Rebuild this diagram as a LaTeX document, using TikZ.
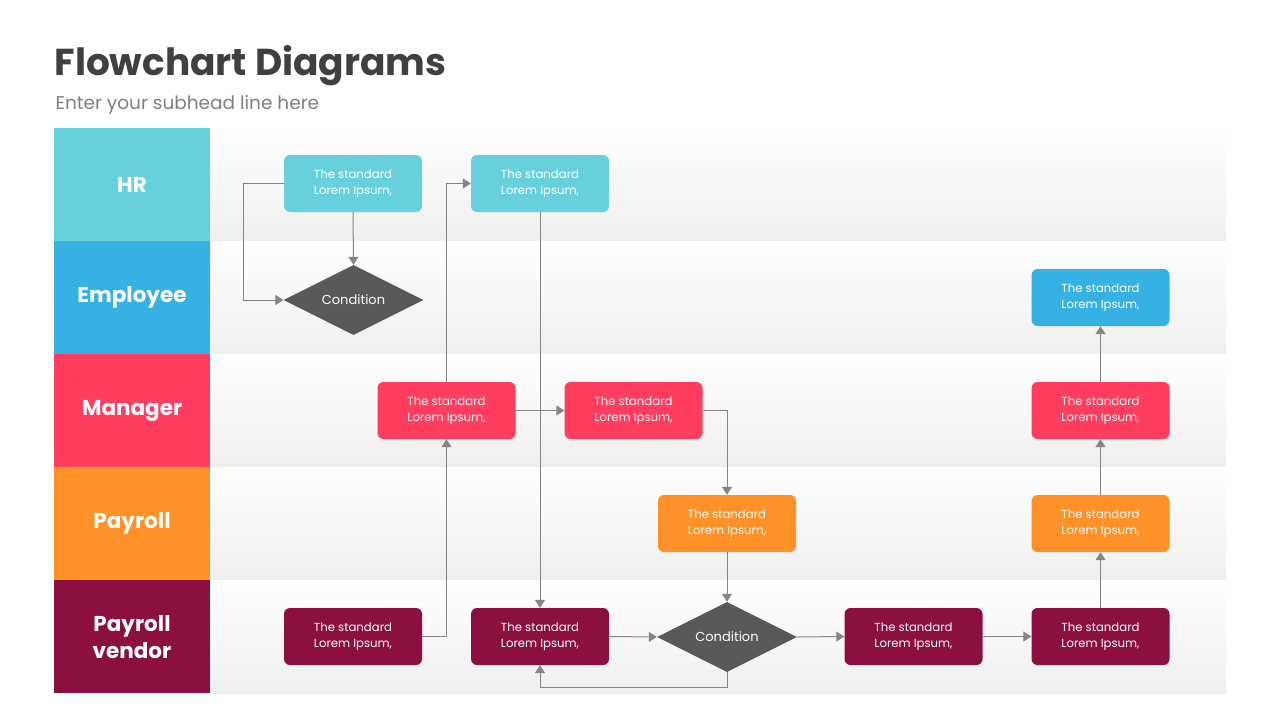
\documentclass[tikz,border=0pt]{standalone}
\usepackage{fontspec}
\setmainfont{Poppins}
\usetikzlibrary{shapes.geometric,arrows.meta}
\definecolor{hrc}{HTML}{66D0DC}
\definecolor{empc}{HTML}{36B1E3}
\definecolor{mgrc}{HTML}{FF3E5F}
\definecolor{payc}{HTML}{FF9129}
\definecolor{vendc}{HTML}{8B0F3F}
\definecolor{condc}{HTML}{595959}
\definecolor{linec}{HTML}{858585}
\definecolor{titlec}{HTML}{404040}
\definecolor{subc}{HTML}{808080}
\definecolor{laneb}{HTML}{EFEFEF}
\tikzset{
  box/.style={rounded corners=6pt, minimum width=138pt, minimum height=57pt, text=white, align=center, inner sep=0pt, font=\fontsize{11.7}{15.5}\selectfont},
  cond/.style={diamond, fill=condc, minimum width=140pt, minimum height=70pt, inner sep=0pt, aspect=2, text=white, font=\fontsize{13}{15}\selectfont},
  lanelab/.style={text=white, align=center, font=\fontsize{21.5}{27}\selectfont\bfseries},
  arr/.style={draw=linec, line width=1pt, -{Triangle[width=10pt,length=8pt]}},
}
\begin{document}
\begin{tikzpicture}[x=1pt,y=-1pt]
\useasboundingbox (0,0) rectangle (1280,720);
\fill[white] (0,0) rectangle (1280,720);
% title
\node[anchor=west, text=titlec, font=\fontsize{37.5}{42}\selectfont\bfseries] (title) at (51,66) {Flowchart Diagrams};
\node[anchor=west, text=subc, font=\fontsize{18.5}{22}\selectfont] (sub) at (52,105) {Enter your subhead line here};
% lanes
\foreach \t in {128,241,354,467,580}{
  \shade[top color=white, bottom color=laneb] (210,\t) rectangle (1226,\t+113);
}
\fill[hrc] (54,128) rectangle (210,241);
\fill[empc] (54,241) rectangle (210,354);
\fill[mgrc] (54,354) rectangle (210,467);
\fill[payc] (54,467) rectangle (210,580);
\fill[vendc] (54,580) rectangle (210,693);
\node[lanelab] (lhr) at (132,184.5) {HR};
\node[lanelab] (lemp) at (132,297.5) {Employee};
\node[lanelab] (lmgr) at (132,410.5) {Manager};
\node[lanelab] (lpay) at (132,523.5) {Payroll};
\node[lanelab] (lven) at (132,637) {Payroll\\vendor};
% nodes
\node[box, fill=hrc] (h1) at (353,183.5) {The standard\\Lorem Ipsum,};
\node[box, fill=hrc] (h2) at (540,183.5) {The standard\\Lorem Ipsum,};
\node[cond] (c1) at (353.5,300) {Condition};
\node[box, fill=empc] (e1) at (1100.5,297.5) {The standard\\Lorem Ipsum,};
\node[box, fill=mgrc] (m1) at (446.5,410.5) {The standard\\Lorem Ipsum,};
\node[box, fill=mgrc] (m2) at (633.5,410.5) {The standard\\Lorem Ipsum,};
\node[box, fill=mgrc] (m3) at (1100.5,410.5) {The standard\\Lorem Ipsum,};
\node[box, fill=payc] (p1) at (727,523.5) {The standard\\Lorem Ipsum,};
\node[box, fill=payc] (p2) at (1100.5,523.5) {The standard\\Lorem Ipsum,};
\node[box, fill=vendc] (v1) at (353,636.5) {The standard\\Lorem Ipsum,};
\node[box, fill=vendc] (v2) at (540,636.5) {The standard\\Lorem Ipsum,};
\node[cond] (c2) at (727,637) {Condition};
\node[box, fill=vendc] (v4) at (913.5,636.5) {The standard\\Lorem Ipsum,};
\node[box, fill=vendc] (v5) at (1100.5,636.5) {The standard\\Lorem Ipsum,};
% connectors
\draw[arr] (h1.south) -- (c1.north);
\draw[arr] (h1.west) -- ++(-40,0) |- (c1.west);
\draw[arr] (m1.north) |- (h2.west);
\draw[arr] (h2.south) -- (v2.north);
\draw[arr] (v1.east) -| (m1.south);
\draw[arr] (m1.east) -- (m2.west);
\draw[arr] (m2.east) -| (p1.north);
\draw[arr] (p1.south) -- (c2.north);
\draw[arr] (v2.east) -- (c2.west);
\draw[arr] (c2.south) -- ++(0,15) -| (v2.south);
\draw[arr] (c2.east) -- (v4.west);
\draw[arr] (v4.east) -- (v5.west);
\draw[arr] (v5.north) -- (p2.south);
\draw[arr] (p2.north) -- (m3.south);
\draw[arr] (m3.north) -- (e1.south);
\end{tikzpicture}
\end{document}
